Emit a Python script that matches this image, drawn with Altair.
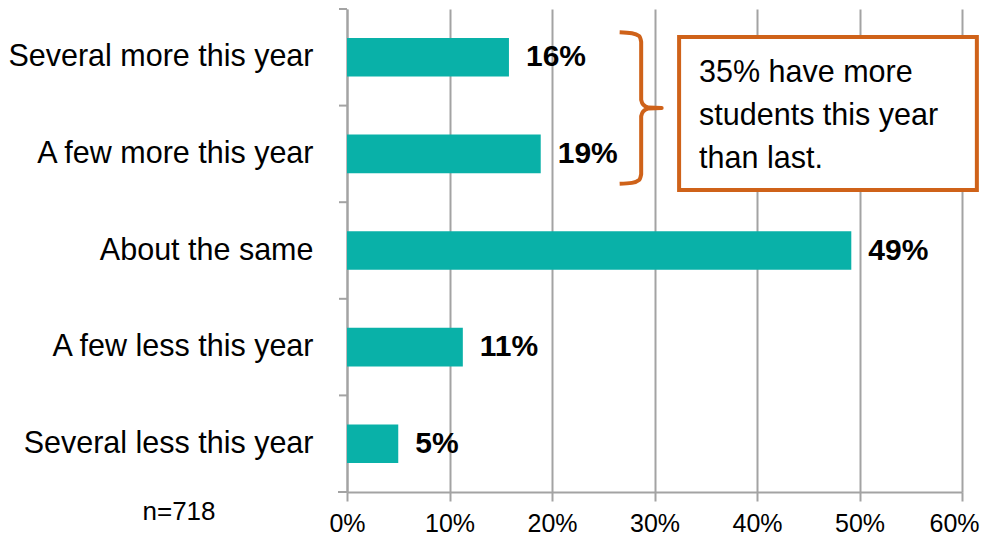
import altair as alt
import pandas as pd

# ---- data ----
categories = ["Several more this year", "A few more this year", "About the same",
              "A few less this year", "Several less this year"]
values = [15.8, 18.9, 49.2, 11.3, 5.0]
value_labels = ["16%", "19%", "49%", "11%", "5%"]
x_ticks = [0, 10, 20, 30, 40, 50, 60]

note_lines = ["35% have more", "students this year", "than last."]
sample_note = "n=718"

# brace spanning the first two categories (x in %, y in category units from top)
brace_x = [26.6, 27.8, 28.5, 28.7, 28.7, 28.9, 29.4, 30.7, 29.4, 28.9, 28.7, 28.7, 28.5, 27.8, 26.6]
brace_y = [0.24, 0.25, 0.28, 0.34, 0.94, 0.99, 1.02, 1.025, 1.03, 1.06, 1.11, 1.71, 1.77, 1.80, 1.81]
box_x = [32.4]
box_x2 = [61.45]
note_x = [34.35]

FONT = "Liberation Sans, Arial, sans-serif"
TEAL = "#09B1A8"
ORANGE = "#CF6219"
GRID = "#A3A3A3"

df = pd.DataFrame({"cat": categories, "val": values, "lab": value_labels})
brace_df = pd.DataFrame({"bx": brace_x, "by": brace_y, "o": list(range(len(brace_x)))})
box_df = pd.DataFrame({"x": box_x, "x2": box_x2})
note_df = pd.DataFrame({"x": note_x})

xscale = alt.Scale(domain=[0, 60], nice=False, zero=True)
yscale = alt.Scale(domain=categories, paddingInner=0, paddingOuter=0)

xenc = alt.X("val:Q", scale=xscale,
             axis=alt.Axis(values=x_ticks, labelExpr="datum.value + '%'", title=None,
                           grid=True, gridColor=GRID, gridWidth=2,
                           domainColor=GRID, domainWidth=2,
                           tickColor=GRID, tickWidth=2, tickSize=9,
                           labelFont=FONT, labelFontSize=25, labelColor="#000",
                           labelPadding=10, labelFlush=False,
                           labelOffset={"expr": "datum.value == 60 ? -8 : 0"}))

yenc = alt.Y("cat:N", scale=yscale, sort=categories,
             axis=alt.Axis(title=None, ticks=False, tickSize=0, domainColor=GRID, domainWidth=2,
                           labelFont=FONT, labelFontSize=30.5, labelColor="#000",
                           labelPadding=34, labelLimit=400))

ycat_plain = alt.Y("cat:N", scale=yscale, sort=categories, axis=None)

bars = alt.Chart(df).mark_bar(color=TEAL, height={"band": 0.4}).encode(x=xenc, y=yenc)

texts = alt.Chart(df).mark_text(align="left", baseline="middle", dx=17, font=FONT,
                                fontSize=30, fontWeight="bold", color="#000").encode(
    x=alt.X("val:Q", scale=xscale), y=ycat_plain, text="lab:N")

cat_ticks = alt.Chart(df).mark_rule(color=GRID, strokeWidth=2).encode(
    y=alt.Y("cat:N", scale=yscale, sort=categories, bandPosition=0, axis=None),
    x=alt.value(-8), x2=alt.value(0))

bottom_tick = alt.Chart(df.head(1)).mark_rule(color=GRID, strokeWidth=2).encode(
    y=alt.value(483), x=alt.value(-9), x2=alt.value(0))

box = alt.Chart(box_df).mark_rect(fill="white", stroke=ORANGE, strokeWidth=4).encode(
    x=alt.X("x:Q", scale=xscale), x2="x2:Q", y=alt.value(28), y2=alt.value(181))

note = alt.Chart(note_df).mark_text(align="left", baseline="alphabetic", font=FONT, fontSize=30.5,
                                    lineHeight=43, color="#000").encode(
    x=alt.X("x:Q", scale=xscale), y=alt.value(73), text=alt.value(note_lines))

n_text = alt.Chart(df.head(1)).mark_text(align="center", baseline="alphabetic", font=FONT,
                                         fontSize=26, color="#000").encode(
    x=alt.value(-168), y=alt.value(511), text=alt.value(sample_note))

brace = alt.Chart(brace_df).mark_line(color=ORANGE, strokeWidth=4, strokeJoin="round",
                                      strokeCap="butt", interpolate="monotone").encode(
    x=alt.X("bx:Q", scale=xscale),
    y=alt.Y("by:Q", scale=alt.Scale(domain=[0, 5], reverse=True, nice=False, zero=False), axis=None),
    order="o:Q")

chart = alt.layer(bars, cat_ticks, bottom_tick, texts, box, note, n_text, brace).resolve_scale(
    y="independent").properties(
    width=615, height=483,
    autosize=alt.AutoSizeParams(type="none"),
    padding={"left": 339, "top": 1, "right": 18, "bottom": 44},
).configure_view(stroke=None)

chart.save("out.html", embed_options={"renderer": "svg", "actions": False})
